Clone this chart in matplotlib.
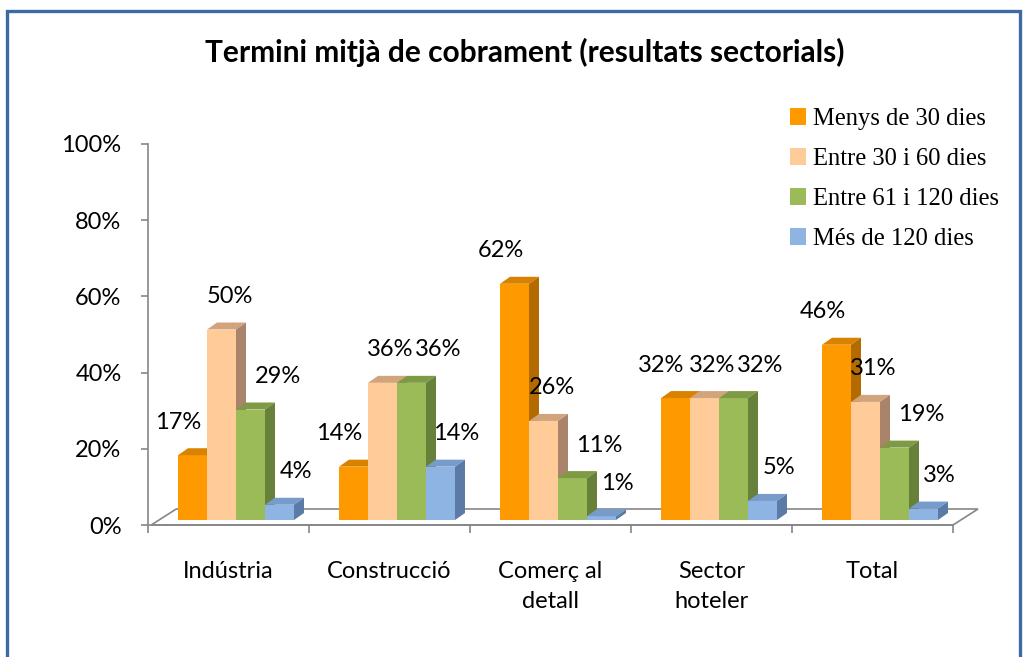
import numpy as np
import matplotlib.pyplot as plt
from matplotlib.patches import Polygon, Rectangle, Patch

# dades del gràfic
categories = ["Indústria", "Construcció", "Comerç al\ndetall", "Sector\nhoteler", "Total"]
series_names = ["Menys de 30 dies", "Entre 30 i 60 dies", "Entre 61 i 120 dies", "Més de 120 dies"]
menys_30 = [17, 14, 62, 32, 46]
entre_30_60 = [50, 36, 26, 32, 31]
entre_61_120 = [29, 36, 11, 32, 19]
mes_120 = [4, 14, 1, 5, 3]
yticks = [0, 20, 40, 60, 80, 100]

valors = [menys_30, entre_30_60, entre_61_120, mes_120]

# colors: cara frontal, cara superior, cara lateral
front = ["#FF9900", "#FFCC99", "#9BBB59", "#8EB4E3"]
top = ["#D98200", "#D2A47C", "#7E9A45", "#779CCB"]
side = ["#B36B00", "#A9846A", "#67813A", "#5B7BA6"]
label_dx = [-14, 8, 27, 16]  # desplaçament etiquetes (px)

W, H = 1028, 657
fig = plt.figure(figsize=(W / 100, H / 100), dpi=100)
ax = fig.add_axes([148 / W, 1 - 525 / H, 805 / W, 381 / H])
ax.set_xlim(0, 5)
ax.set_ylim(0, 100)

px_x = 5 / 805          # unitats x per pixel
px_y = 100 / 381        # unitats y per pixel
bw = 29 * px_x
dx, dy = 10 * px_x, 7 * px_y
base = 5 * px_y
start = 30 * px_x

gray = "#868686"
font = "Lato"
fs = 17

# terra
fdx, fdy = 25 * px_x, 16 * px_y
floor = Polygon([(0.02, 0), (5, 0), (5 + fdx, fdy), (0.02 + fdx, fdy)], closed=True,
                facecolor="white", edgecolor=gray, lw=1.2, clip_on=False, zorder=1)
ax.add_patch(floor)

z = 2
for k, vals in enumerate(valors):
    xs = np.arange(5) + start + k * bw
    ax.bar(xs, vals, width=bw, bottom=base, align="edge", color=front[k],
           edgecolor="none", zorder=z + 2 * k, clip_on=False)
    for x0, v in zip(xs, vals):
        y1 = base + v
        ax.add_patch(Polygon([(x0, y1), (x0 + bw, y1), (x0 + bw + dx, y1 + dy), (x0 + dx, y1 + dy)],
                             closed=True, facecolor=top[k], edgecolor="none",
                             zorder=z + 2 * k + 1, clip_on=False))
        ax.add_patch(Polygon([(x0 + bw, base), (x0 + bw + dx, base + dy),
                              (x0 + bw + dx, y1 + dy), (x0 + bw, y1)],
                             closed=True, facecolor=side[k], edgecolor="none",
                             zorder=z + 2 * k + 1, clip_on=False))
        ax.annotate(f"{v}%", (x0 + bw / 2, y1), xytext=(label_dx[k] * 0.72, 33 * 0.72),
                    textcoords="offset points", ha="center", va="center",
                    fontsize=fs, family=font, color="black", zorder=20)

# eixos
for s in ["top", "right"]:
    ax.spines[s].set_visible(False)
for s in ["left", "bottom"]:
    ax.spines[s].set_color(gray)
    ax.spines[s].set_linewidth(1.2)
ax.spines["bottom"].set_zorder(15)

ax.set_yticks(yticks)
ax.set_yticklabels([f"{t}%" for t in yticks], fontsize=fs, family=font)
ax.tick_params(axis="y", length=5, width=1.2, color=gray, pad=14)

ax.set_xticks(np.arange(6))
ax.set_xticklabels([])
ax.set_xticks(np.arange(5) + 0.5, minor=True)
ax.set_xticklabels(categories, minor=True, fontsize=fs, family=font, linespacing=1.55)
ax.tick_params(axis="x", which="major", length=6, width=1.2, color=gray, direction="out")
ax.tick_params(axis="x", which="minor", length=0, pad=26)

# títol
fig.text(525 / W, 1 - 52 / H, "Termini mitjà de cobrament (resultats sectorials)",
         ha="center", va="center", fontsize=21.5, fontweight="bold", family=font)

# llegenda
handles = [Patch(facecolor=c, edgecolor="none") for c in front]
fig.legend(handles, series_names, loc="upper left", bbox_to_anchor=(768 / W, 1 - 86 / H),
           frameon=False, prop={"family": "Liberation Serif", "size": 17.7},
           handlelength=0.65, handleheight=0.65, handletextpad=0.3, labelspacing=0.73)

# marc
fig.patches.append(Rectangle((7 / W, -0.1), (1020 - 7) / W, 1.1 - 11 / H, transform=fig.transFigure,
                             fill=False, edgecolor="#3E6AA3", lw=2.4, zorder=0))

fig.savefig("out.png", dpi=100)
